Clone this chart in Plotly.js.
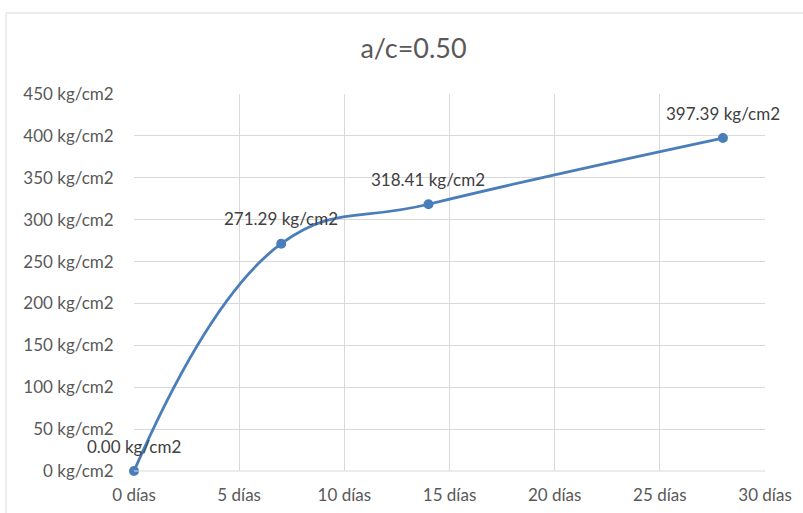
<!DOCTYPE html>
<html>
<head>
<meta charset="utf-8">
<script src="https://cdn.plot.ly/plotly-3.0.1.min.js"></script>
<style>
html,body{margin:0;padding:0;background:#fff;}
#chart{width:803px;height:513px;}
</style>
</head>
<body>
<div id="chart"></div>
<script>
const days = [0, 7, 14, 28];
const strength = [0.00, 271.29, 318.41, 397.39];
const xTicks = [0, 5, 10, 15, 20, 25, 30];
const yTicks = [0, 50, 100, 150, 200, 250, 300, 350, 400, 450];
const titleText = 'a/c=0.50';

const labels = strength.map(v => v.toFixed(2) + ' kg/cm2');
const fontFam = 'Lato, "Liberation Sans", sans-serif';
const grey = '#595959';
const blue = '#4a7ebb';

const trace = {
  x: days,
  y: strength,
  mode: 'lines+markers',
  type: 'scatter',
  line: {color: blue, width: 2.8, shape: 'spline', smoothing: 1.2},
  marker: {color: blue, size: 10},
  cliponaxis: false,
  hoverinfo: 'none'
};

const annotations = days.map((d, i) => ({
  x: d, y: strength[i], xref: 'x', yref: 'y',
  text: labels[i], showarrow: false,
  yshift: 25, xanchor: 'center', yanchor: 'middle',
  font: {family: fontFam, size: 17, color: '#404040'}
}));

const layout = {
  width: 803, height: 513,
  margin: {l: 134, r: 38, t: 94, b: 42},
  paper_bgcolor: '#fff', plot_bgcolor: '#fff',
  showlegend: false,
  title: {text: titleText, font: {family: fontFam, size: 27, color: grey}, x: 0.515, xanchor: 'center', y: 0.905, yanchor: 'middle'},
  xaxis: {
    range: [0, 30], tickvals: xTicks, ticktext: xTicks.map(d => d + ' días'),
    showgrid: true, gridcolor: '#d9d9d9', gridwidth: 1, zeroline: false, showline: false,
    ticks: 'outside', ticklen: 9, tickcolor: 'rgba(0,0,0,0)',
    tickfont: {family: fontFam, size: 17, color: grey}, fixedrange: true
  },
  yaxis: {
    range: [0, 450], tickvals: yTicks, ticktext: yTicks.map(v => v + ' kg/cm2'),
    showgrid: true, gridcolor: '#d9d9d9', gridwidth: 1, zeroline: false, showline: false,
    ticks: 'outside', ticklen: 16, tickcolor: 'rgba(0,0,0,0)',
    tickfont: {family: fontFam, size: 17, color: grey}, fixedrange: true
  },
  annotations: annotations,
  shapes: [
    {type: 'line', xref: 'paper', yref: 'paper', x0: 0, x1: 1, y0: 0, y1: 0, line: {color: '#d9d9d9', width: 1}},
    {type: 'rect', xref: 'paper', yref: 'paper', x0: -0.2029, x1: 1.2, y0: -0.2, y1: 1.2149, line: {color: '#d9d9d9', width: 1}, layer: 'below'}
  ]
};

Plotly.newPlot('chart', [trace], layout, {displayModeBar: false, staticPlot: true});
</script>
</body>
</html>
